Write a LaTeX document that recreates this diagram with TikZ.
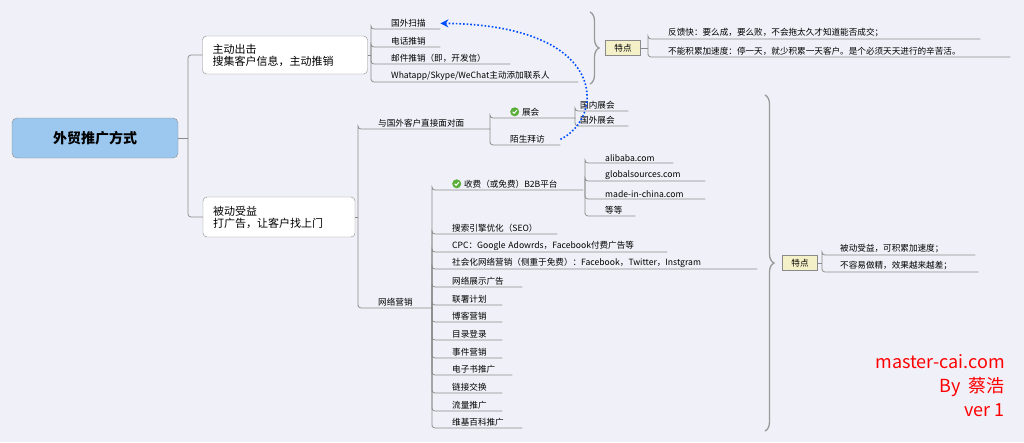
\documentclass[tikz,border=0pt]{standalone}
\usepackage{fontspec}
\setmainfont{Noto Sans CJK SC}
\usetikzlibrary{positioning,decorations.pathreplacing,arrows.meta}
\definecolor{bgcol}{HTML}{F0F1F8}
\definecolor{rootcol}{HTML}{9CC8F0}
\definecolor{tagcol}{HTML}{F4F0C8}
\definecolor{linecol}{HTML}{8A8A8A}
\definecolor{chkcol}{HTML}{5AAE3A}
\newcommand\chkicon{\tikz[x=1cm,y=1cm,baseline=-0.7ex]{\fill[chkcol] (0,0) circle (4.5pt); \draw[white,line width=1pt] (-2pt,0) -- (-0.6pt,-1.5pt) -- (2.2pt,1.6pt);}\ }
% leaf: name, x, underline y, width, text
\newcommand\leafnode[5]{\node[leaf,text width=#4] (#1) at (#2,#3) {\hspace*{20pt}#5};}
\tikzset{
  branch/.style={draw=linecol,line width=0.7pt,rounded corners=3pt},
  leaf/.style={anchor=south west,inner xsep=0pt,inner ysep=1.5pt,align=left,font=\fontsize{8.6}{9.5}\selectfont},
  mainbox/.style={draw=linecol,fill=white,rounded corners=4pt,align=left,inner xsep=10pt,font=\fontsize{11}{12}\selectfont},
  tagbox/.style={draw=linecol,fill=tagcol,minimum width=35pt,minimum height=15pt,inner sep=0pt,font=\fontsize{8.6}{9.5}\selectfont},
  bracebar/.style={draw=gray!80,line width=1.3pt,decorate,decoration={brace,amplitude=9pt}}
}
\begin{document}
\begin{tikzpicture}[x=1pt,y=-1pt]
\fill[bgcol] (0,0) rectangle (1024,442);
\useasboundingbox (0,0) rectangle (1024,442);
% root and main branches
\node[draw=linecol,fill=rootcol,rounded corners=5pt,minimum width=166pt,minimum height=40pt,font=\bfseries\fontsize{14}{15}\selectfont] (root) at (95,138) {外贸推广方式};
\node[mainbox,text width=145pt,minimum height=38pt] (active) at (285,55) {主动出击\\搜集客户信息，主动推销};
\node[mainbox,text width=132pt,minimum height=40pt] (passive) at (279,217) {被动受益\\打广告，让客户找上门};
\coordinate (rj) at (188,138);
\draw[branch] (root.east) -- (rj);
\draw[branch] (rj) |- (active.west);
\draw[branch] (rj) |- (passive.west);
% active children
\coordinate (ab) at (371,55);
\draw[branch] (active.east) -- (ab);
\leafnode{scan}{371}{29}{69}{国外扫描}
\leafnode{phone}{371}{47}{69}{电话推销}
\leafnode{mail}{371}{64}{139}{邮件推销（即，开发信）}
\leafnode{chat}{371}{82}{207}{Whatapp/Skype/WeChat主动添加联系人}
\foreach \n in {scan,phone,mail,chat}
  \draw[branch] (ab) |- (\n.south west) -- (\n.south east);
% active features
\draw[bracebar] (590,12) -- (590,84);
\node[tagbox] (tagA) at (623,48) {特点};
\coordinate (tab) at (648,48);
\draw[branch] (tagA.east) -- (tab);
\leafnode{fa1}{648}{39}{332}{反馈快：要么成，要么败，不会拖太久才知道能否成交；}
\leafnode{fa2}{648}{57}{362}{不能积累加速度：停一天，就少积累一天客户。是个必须天天进行的辛苦活。}
\foreach \n in {fa1,fa2}
  \draw[branch] (tab) |- (\n.south west) -- (\n.south east);
% passive children
\coordinate (pb) at (358,217);
\draw[branch] (passive.east) -- (pb);
\leafnode{face}{358}{129}{132}{与国外客户直接面对面}
\leafnode{net}{358}{308}{74}{网络营销}
\foreach \n in {face,net}
  \draw[branch] (pb) |- (\n.south west) -- (\n.south east);
% face to face
\coordinate (fb) at (490,129);
\leafnode{expo}{490}{118}{85}{\chkicon 展会}
\leafnode{visit}{490}{145}{70}{陌生拜访}
\foreach \n in {expo,visit}
  \draw[branch] (fb) |- (\n.south west) -- (\n.south east);
\coordinate (eb) at (575,118);
\node[leaf,text width=53pt] (home) at (575,111) {\hspace*{5pt}国内展会};
\node[leaf,text width=53pt] (abroad) at (575,126) {\hspace*{5pt}国外展会};
\foreach \n in {home,abroad}
  \draw[branch] (eb) |- (\n.south west) -- (\n.south east);
% network marketing
\coordinate (nb) at (432,308);
\leafnode{btob}{432}{190}{151}{\chkicon 收费（或免费）B2B平台}
\draw[branch] (nb) |- (btob.south west) -- (btob.south east);
\coordinate (bb) at (585,190);
\foreach \n/\y/\w/\t in {ali/163/88/alibaba.com, glob/181/120/globalsources.com, mic/199/120/made-in-china.com, etc/216/50/等等}{
  \leafnode{\n}{585}{\y}{\w}{\t}
  \draw[branch] (bb) |- (\n.south west) -- (\n.south east);
}
\foreach \n/\y/\w/\t in {
  seo/234/125/{搜索引擎优化（SEO）},
  cpc/252/235/{CPC：Google Adowrds，Facebook付费广告等},
  sns/269/325/{社会化网络营销（侧重于免费）：Facebook，Twitter，Instgram},
  disp/287/90/{网络展示广告},
  aff/305/70/{联署计划},
  blog/322/70/{博客营销},
  dir/340/70/{目录登录},
  event/358/70/{事件营销},
  ebook/375/80/{电子书推广},
  link/393/70/{链接交换},
  flow/411/70/{流量推广},
  wiki/428/90/{维基百科推广}}{
  \leafnode{\n}{432}{\y}{\w}{\t}
  \draw[branch] (nb) |- (\n.south west) -- (\n.south east);
}
% passive features
\draw[bracebar] (765,95) -- (765,431);
\node[tagbox] (tagB) at (800,263) {特点};
\coordinate (tbb) at (822,263);
\draw[branch] (tagB.east) -- (tbb);
\node[leaf,text width=153pt] (fb1) at (822,255) {\hspace*{18pt}被动受益，可积累加速度；};
\node[leaf,text width=156pt] (fb2) at (822,272) {\hspace*{18pt}不容易做精，效果越来越差；};
\foreach \n in {fb1,fb2}
  \draw[branch] (tbb) |- (\n.south west) -- (\n.south east);
% link between leaves
\draw[blue!70!cyan,line width=1.6pt,dotted,-{Stealth[length=8pt,width=8pt]}] (visit.east) .. controls (605,118) and (610,25) .. (scan.east);
% credit
\node[anchor=east,align=right,red,inner sep=0pt,font=\fontsize{18}{24}\selectfont] (credit) at (1005,386) {master-cai.com\\By\ \ 蔡浩\\ver 1};
\end{tikzpicture}
\end{document}
